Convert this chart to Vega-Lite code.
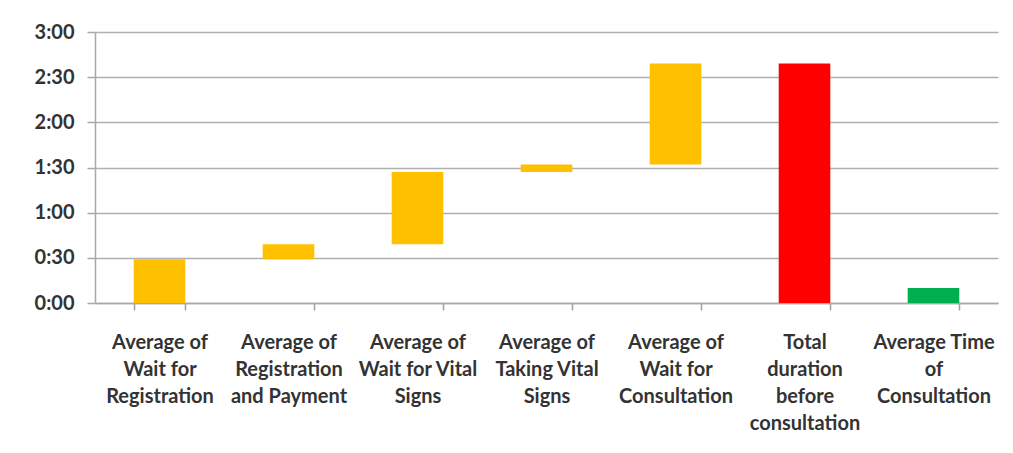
{
  "$schema": "https://vega.github.io/schema/vega-lite/v6.json",
  "autosize": "none",
  "width": 903,
  "height": 271,
  "padding": {"left": 95, "top": 32, "right": 15, "bottom": 150},
  "background": "white",
  "data": {
    "values": [
      {"step": "Average of\nWait for\nRegistration", "start": 0, "end": 29, "kind": "step"},
      {"step": "Average of\nRegistration\nand Payment", "start": 29, "end": 39, "kind": "step"},
      {"step": "Average of\nWait for Vital\nSigns", "start": 39, "end": 87, "kind": "step"},
      {"step": "Average of\nTaking Vital\nSigns", "start": 87, "end": 92, "kind": "step"},
      {"step": "Average of\nWait for\nConsultation", "start": 92, "end": 159, "kind": "step"},
      {"step": "Total\nduration\nbefore\nconsultation", "start": 0, "end": 159, "kind": "total"},
      {"step": "Average Time\nof\nConsultation", "start": 0, "end": 10, "kind": "consult"}
    ]
  },
  "mark": {"type": "bar"},
  "encoding": {
    "x": {
      "field": "step",
      "type": "nominal",
      "sort": null,
      "scale": {"paddingInner": 0.6, "paddingOuter": 0.3},
      "axis": {
        "title": null,
        "labelAngle": 0,
        "labelFont": "Lato",
        "labelFontWeight": "bold",
        "labelFontSize": 20,
        "labelLineHeight": 27,
        "labelColor": "#333333",
        "labelPadding": 22,
        "labelLimit": 200,
        "labelExpr": "split(datum.label, '\\n')",
        "tickBand": "extent",
        "tickSize": 7,
        "tickColor": "#a0a0a0",
        "tickWidth": 1.5,
        "domainColor": "#a8a8a8",
        "domainWidth": 1.5,
        "grid": false
      }
    },
    "y": {
      "field": "start",
      "type": "quantitative",
      "scale": {"domain": [0, 180], "nice": false},
      "axis": {
        "title": null,
        "values": [0, 30, 60, 90, 120, 150, 180],
        "labelExpr": "floor(datum.value / 60) + ':' + (datum.value % 60 < 10 ? '0' : '') + (datum.value % 60)",
        "labelFont": "Lato",
        "labelFontWeight": "bold",
        "labelFontSize": 20,
        "labelColor": "#333333",
        "labelPadding": 13,
        "tickSize": 8,
        "tickColor": "#a8a8a8",
        "tickWidth": 1.5,
        "domainColor": "#a8a8a8",
        "domainWidth": 1.5,
        "grid": true,
        "gridColor": "#b0b0b0",
        "gridWidth": 1.5
      }
    },
    "y2": {"field": "end"},
    "color": {
      "field": "kind",
      "type": "nominal",
      "scale": {"domain": ["step", "total", "consult"], "range": ["#FFC000", "#FF0000", "#00B050"]},
      "legend": null
    }
  },
  "config": {"view": {"stroke": null}}
}
